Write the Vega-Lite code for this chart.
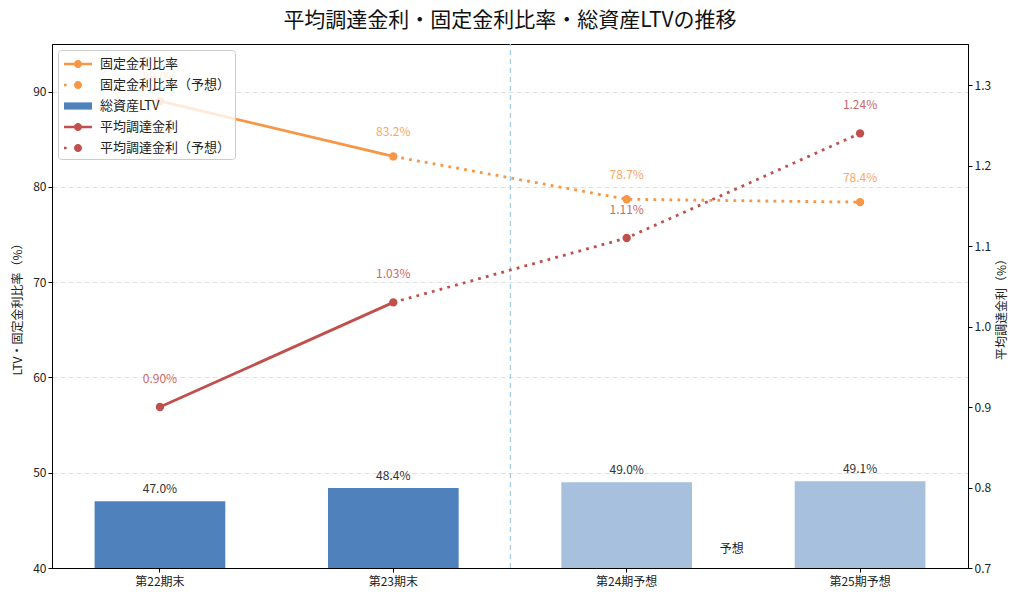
{
  "$schema": "https://vega.github.io/schema/vega-lite/v6.json",
  "description": "平均調達金利・固定金利比率・総資産LTVの推移",
  "autosize": "none",
  "width": 916,
  "height": 524,
  "padding": {"left": 52, "top": 44, "right": 56, "bottom": 33},
  "background": "white",
  "title": {
    "text": "平均調達金利・固定金利比率・総資産LTVの推移",
    "fontSize": 21,
    "fontWeight": "normal",
    "font": "Noto Sans CJK JP",
    "color": "#111",
    "anchor": "middle",
    "offset": 12
  },
  "config": {
    "font": "Noto Sans CJK JP",
    "view": {"stroke": "#000", "strokeWidth": 1},
    "axis": {
      "labelFont": "Noto Sans CJK JP",
      "titleFont": "Noto Sans CJK JP",
      "labelFontSize": 12,
      "titleFontSize": 12,
      "titleFontWeight": "normal",
      "labelColor": "#222",
      "titleColor": "#222",
      "domainColor": "#000",
      "tickColor": "#000",
      "tickSize": 4
    }
  },
  "data": {
    "values": [
      {"period": "第22期末", "phase": "実績", "ltv": 47.0, "fixed": 89.0, "rate": 0.90},
      {"period": "第23期末", "phase": "実績", "ltv": 48.4, "fixed": 83.2, "rate": 1.03},
      {"period": "第24期予想", "phase": "予想", "ltv": 49.0, "fixed": 78.7, "rate": 1.11},
      {"period": "第25期予想", "phase": "予想", "ltv": 49.1, "fixed": 78.4, "rate": 1.24}
    ]
  },
  "encoding": {
    "x": {
      "field": "period",
      "type": "nominal",
      "sort": null,
      "title": null,
      "scale": {"paddingInner": 0.44, "paddingOuter": 0.1825},
      "axis": {"labelAngle": 0, "labelPadding": 4}
    }
  },
  "layer": [
    {
      "layer": [
        {
          "mark": {"type": "bar", "color": "#4F81BD"},
          "encoding": {
            "y": {
              "field": "ltv",
              "type": "quantitative",
              "title": "LTV・固定金利比率（%）",
              "scale": {"domain": [40, 95], "nice": false, "zero": false},
              "axis": {
                "values": [40, 50, 60, 70, 80, 90],
                "grid": true,
                "gridColor": "#cccccc",
                "gridOpacity": 0.6,
                "gridDash": [5, 3],
                "titlePadding": 8
              }
            },
            "y2": {"datum": 40},
            "opacity": {
              "field": "phase",
              "type": "nominal",
              "scale": {"domain": ["実績", "予想"], "range": [1, 0.5]},
              "legend": null
            }
          }
        },
        {
          "mark": {"type": "text", "dy": -12, "fontSize": 12, "color": "#333"},
          "transform": [{"calculate": "format(datum.ltv, '.1f') + '%'", "as": "ltvLabel"}],
          "encoding": {
            "y": {"field": "ltv", "type": "quantitative", "title": "LTV・固定金利比率（%）", "scale": {"domain": [40, 95], "nice": false, "zero": false}},
            "text": {"field": "ltvLabel"}
          }
        },
        {
          "data": {"values": [{"after": "第23期末"}]},
          "mark": {"type": "rule", "color": "#9ECAE9", "strokeDash": [5, 4], "strokeWidth": 1.2, "xOffset": 117},
          "encoding": {
            "x": {"field": "after", "type": "nominal"},
            "y": {"datum": 40, "type": "quantitative", "title": "LTV・固定金利比率（%）", "scale": {"domain": [40, 95], "nice": false, "zero": false}},
            "y2": {"datum": 95}
          }
        },
        {
          "data": {"values": [{"at": "第24期予想", "label": "予想", "level": 42}]},
          "mark": {"type": "text", "fontSize": 12, "fontWeight": "normal", "color": "#222", "xOffset": 105},
          "encoding": {
            "x": {"field": "at", "type": "nominal"},
            "y": {"field": "level", "type": "quantitative", "title": "LTV・固定金利比率（%）", "scale": {"domain": [40, 95], "nice": false, "zero": false}},
            "text": {"field": "label"}
          }
        },
        {
          "transform": [{"filter": {"field": "phase", "equal": "実績"}}],
          "mark": {"type": "line", "strokeWidth": 2.8, "color": "#F79646"},
          "encoding": {
            "y": {"field": "fixed", "type": "quantitative", "title": "LTV・固定金利比率（%）", "scale": {"domain": [40, 95], "nice": false, "zero": false}}
          }
        },
        {
          "transform": [{"filter": {"field": "period", "oneOf": ["第23期末", "第24期予想", "第25期予想"]}}],
          "mark": {"type": "line", "strokeWidth": 2.8, "strokeDash": [2.8, 5.2], "color": "#F79646"},
          "encoding": {
            "y": {"field": "fixed", "type": "quantitative", "title": "LTV・固定金利比率（%）", "scale": {"domain": [40, 95], "nice": false, "zero": false}}
          }
        },
        {
          "mark": {"type": "point", "filled": true, "opacity": 1, "size": 70, "color": "#F79646"},
          "encoding": {
            "y": {"field": "fixed", "type": "quantitative", "title": "LTV・固定金利比率（%）", "scale": {"domain": [40, 95], "nice": false, "zero": false}}
          }
        },
        {
          "mark": {"type": "text", "dy": -24, "fontSize": 12, "color": "#F9A866"},
          "transform": [{"calculate": "format(datum.fixed, '.1f') + '%'", "as": "fixedLabel"}],
          "encoding": {
            "y": {"field": "fixed", "type": "quantitative", "title": "LTV・固定金利比率（%）", "scale": {"domain": [40, 95], "nice": false, "zero": false}},
            "text": {"field": "fixedLabel"}
          }
        }
      ]
    },
    {
      "layer": [
        {
          "mark": {"type": "point", "filled": true, "size": 0, "opacity": 1},
          "transform": [{"calculate": "'平均調達金利'", "as": "series"}],
          "encoding": {
            "y": {
              "field": "rate",
              "type": "quantitative",
              "title": "平均調達金利（%）",
              "scale": {"domain": [0.7, 1.351], "nice": false, "zero": false},
              "axis": {
                "orient": "right",
                "values": [0.7, 0.8, 0.9, 1.0, 1.1, 1.2, 1.3],
                "format": ".1f",
                "grid": false,
                "titleAngle": 270,
                "titleBaseline": "top",
                "titlePadding": 6
              }
            },
            "color": {
              "field": "series",
              "type": "nominal",
              "scale": {
                "domain": ["固定金利比率", "固定金利比率（予想）", "総資産LTV", "平均調達金利", "平均調達金利（予想）"],
                "range": ["#F79646", "#F79646", "#4F81BD", "#C0504D", "#C0504D"]
              },
              "legend": {
                "title": null,
                "orient": "top-left",
                "offset": 6,
                "padding": 4,
                "fillColor": "rgba(255,255,255,0.8)",
                "strokeColor": "#cccccc",
                "cornerRadius": 3,
                "symbolSize": 400,
                "symbolStrokeWidth": 0,
                "symbolOpacity": 1,
                "symbolOffset": 6,
                "labelOffset": 12,
                "labelFontSize": 13,
                "labelColor": "#222",
                "labelLimit": 300,
                "rowPadding": 4
              }
            },
            "shape": {
              "field": "series",
              "type": "nominal",
              "scale": {
                "domain": ["固定金利比率", "固定金利比率（予想）", "総資産LTV", "平均調達金利", "平均調達金利（予想）"],
                "range": [
                  "M-1.4,-0.125H1.4V0.125H-1.4Z M-0.4,0A0.4,0.4 0 1,1 0.4,0A0.4,0.4 0 1,1 -0.4,0Z",
                  "M-1.4,-0.13H-1.14V0.13H-1.4Z M-0.4,0A0.4,0.4 0 1,1 0.4,0A0.4,0.4 0 1,1 -0.4,0Z",
                  "M-1.4,-0.36H1.4V0.36H-1.4Z",
                  "M-1.4,-0.125H1.4V0.125H-1.4Z M-0.4,0A0.4,0.4 0 1,1 0.4,0A0.4,0.4 0 1,1 -0.4,0Z",
                  "M-1.4,-0.13H-1.14V0.13H-1.4Z M-0.4,0A0.4,0.4 0 1,1 0.4,0A0.4,0.4 0 1,1 -0.4,0Z"
                ]
              },
              "legend": {"title": null}
            }
          }
        },
        {
          "transform": [{"filter": {"field": "phase", "equal": "実績"}}],
          "mark": {"type": "line", "strokeWidth": 2.8, "color": "#C0504D"},
          "encoding": {
            "y": {"field": "rate", "type": "quantitative", "title": "平均調達金利（%）", "scale": {"domain": [0.7, 1.351], "nice": false, "zero": false}}
          }
        },
        {
          "transform": [{"filter": {"field": "period", "oneOf": ["第23期末", "第24期予想", "第25期予想"]}}],
          "mark": {"type": "line", "strokeWidth": 2.8, "strokeDash": [2.8, 5.2], "color": "#C0504D"},
          "encoding": {
            "y": {"field": "rate", "type": "quantitative", "title": "平均調達金利（%）", "scale": {"domain": [0.7, 1.351], "nice": false, "zero": false}}
          }
        },
        {
          "mark": {"type": "point", "filled": true, "opacity": 1, "size": 70, "color": "#C0504D"},
          "encoding": {
            "y": {"field": "rate", "type": "quantitative", "title": "平均調達金利（%）", "scale": {"domain": [0.7, 1.351], "nice": false, "zero": false}}
          }
        },
        {
          "mark": {"type": "text", "dy": -28, "fontSize": 12, "color": "#CD6966"},
          "transform": [{"calculate": "format(datum.rate, '.2f') + '%'", "as": "rateLabel"}],
          "encoding": {
            "y": {"field": "rate", "type": "quantitative", "title": "平均調達金利（%）", "scale": {"domain": [0.7, 1.351], "nice": false, "zero": false}},
            "text": {"field": "rateLabel"}
          }
        }
      ]
    }
  ],
  "resolve": {"scale": {"y": "independent"}, "axis": {"y": "independent"}}
}
